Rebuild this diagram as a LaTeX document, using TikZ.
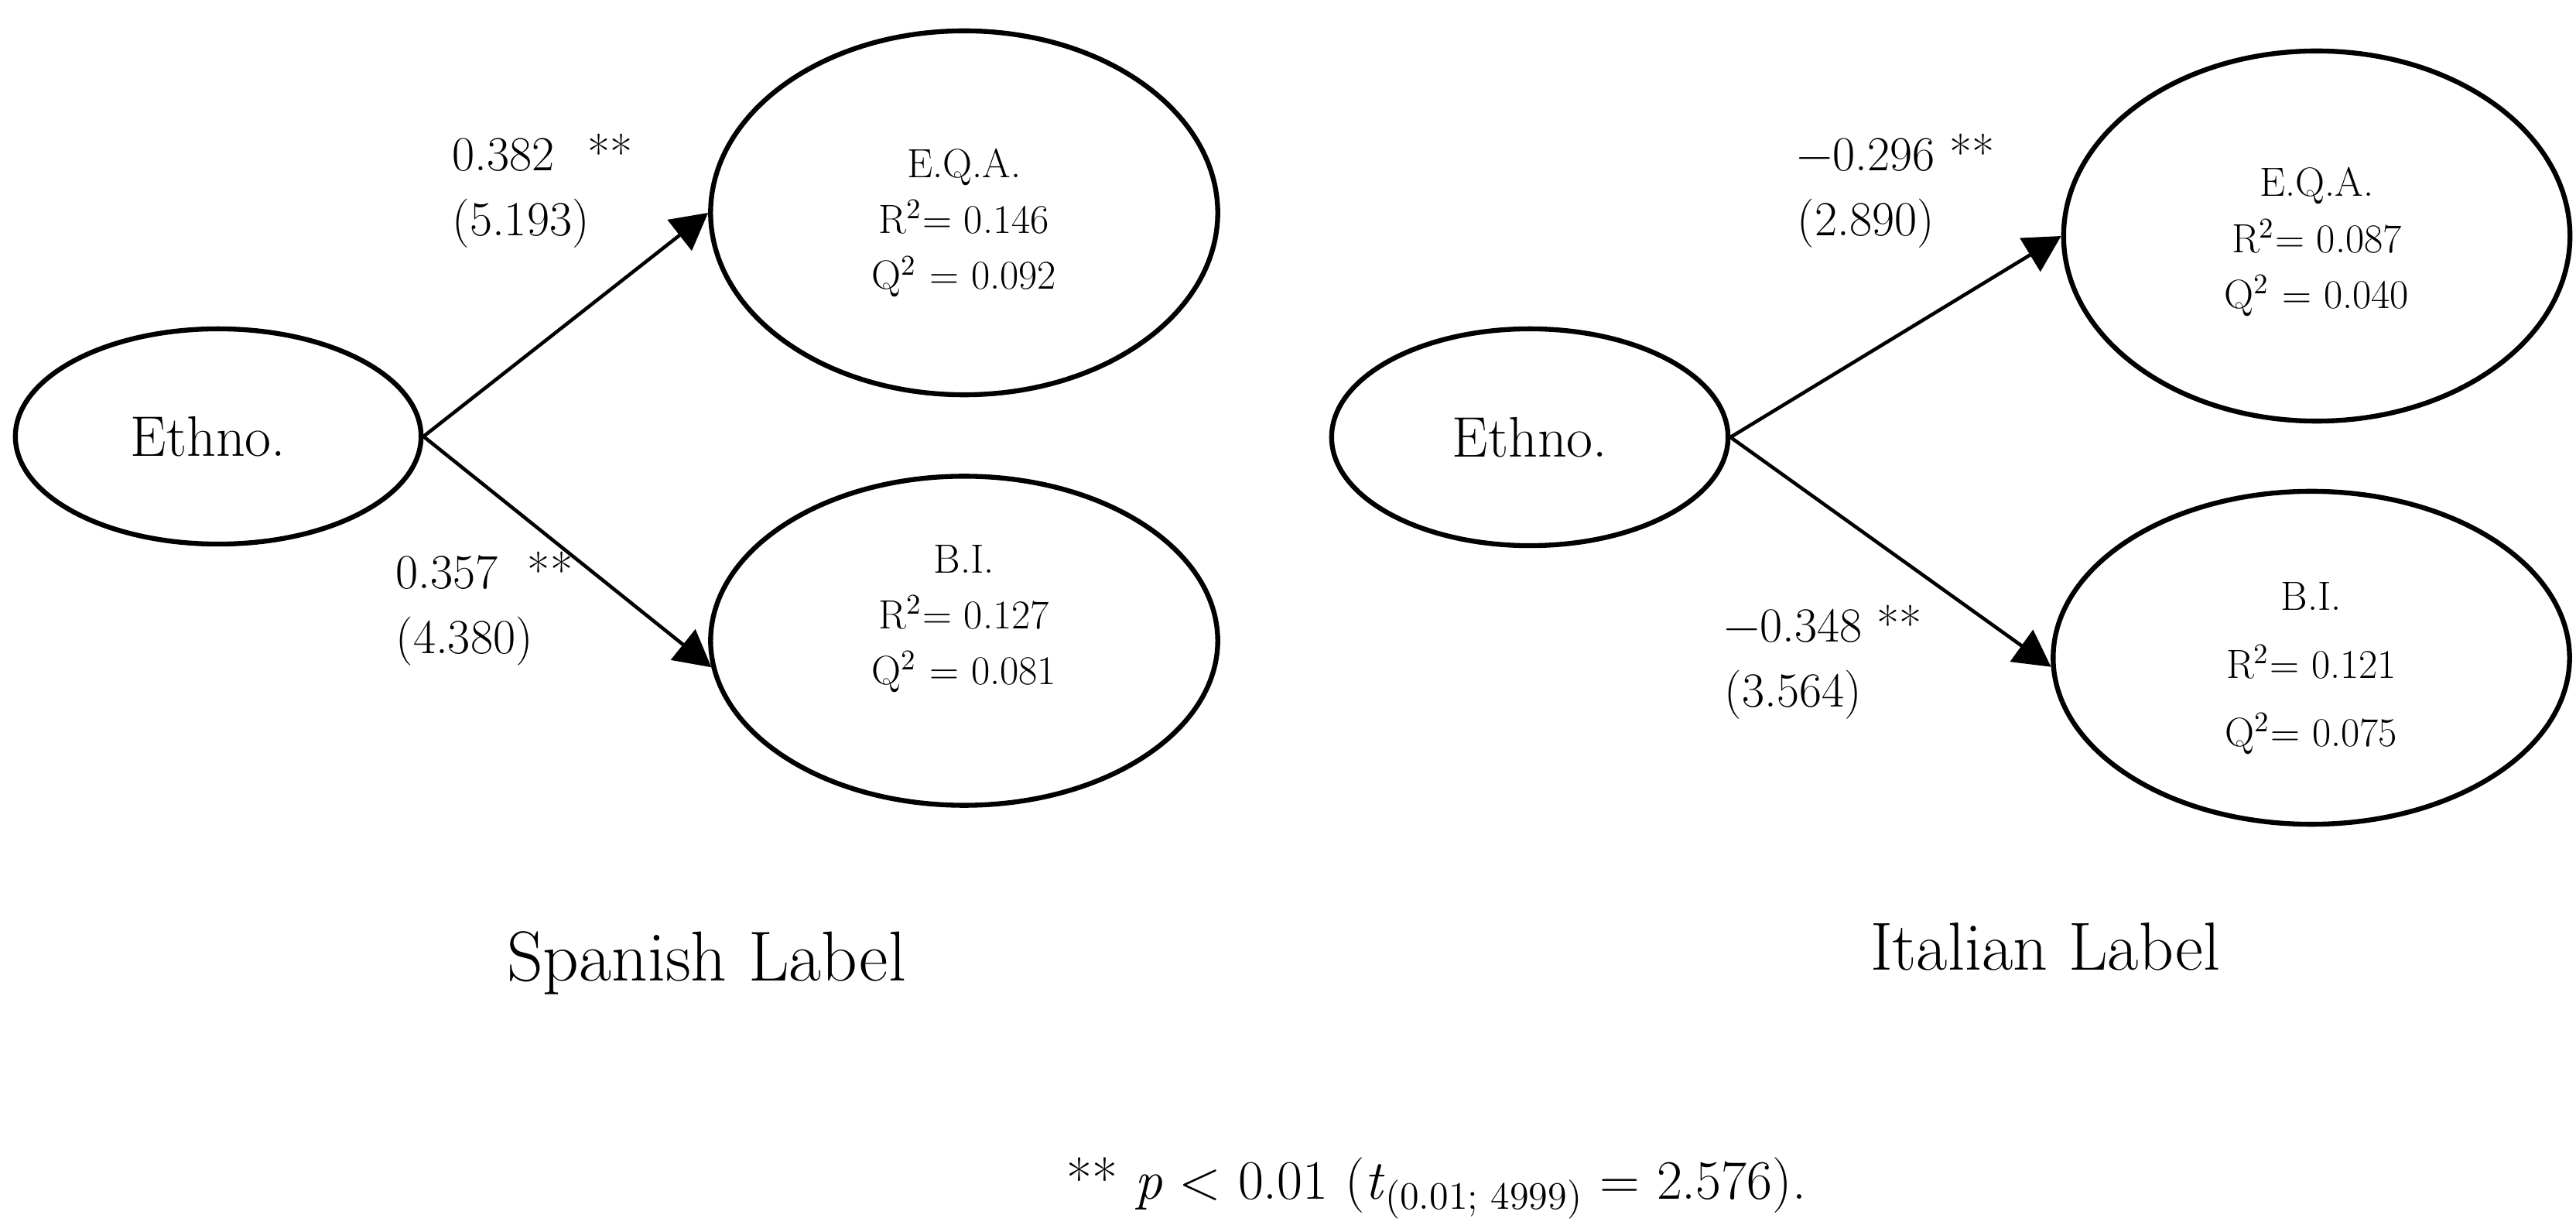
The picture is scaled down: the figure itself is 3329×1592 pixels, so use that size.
\documentclass[tikz,border=0pt]{standalone}
\usepackage{fontspec}
\usetikzlibrary{shapes.geometric, arrows.meta}
\begin{document}
\begin{tikzpicture}[x=0.01cm, y=-0.01cm,
  latent/.style={draw, line width=1.8pt, ellipse, inner sep=0pt, align=center},
  ethnobox/.style={latent, font=\fontsize{21}{24}\selectfont},
  inner/.style={text depth=0pt},
  pathline/.style={line width=1.3pt, -{Triangle[length=0.47cm, width=0.5cm]}},
  coef/.style={anchor=base west, align=left, inner sep=0pt, font=\fontsize{18}{24}\selectfont},
  title/.style={anchor=base, inner sep=0pt}
]
\useasboundingbox (0,0) rectangle (3329,1592);

% Spanish
\node[ethnobox, minimum width=5.24cm, minimum height=2.78cm] (e1) at (282,564) {\hspace*{-0.26cm}Ethno.};
\node[latent, inner, font=\fontsize{15}{20.5}\selectfont, text height=56pt,
  minimum width=6.55cm, minimum height=4.7cm] (q1) at (1246,275)
  {E.Q.A.\\R\textsuperscript{2}= 0.146\\Q\textsuperscript{2} = 0.092};
\node[latent, inner, font=\fontsize{15}{20.5}\selectfont, text height=32pt,
  minimum width=6.55cm, minimum height=4.25cm] (b1) at (1246,828)
  {B.I.\\R\textsuperscript{2}= 0.127\\Q\textsuperscript{2} = 0.081};
\draw[pathline] (e1.east) -- (q1.west);
\draw[pathline] (e1.east) -- (b1.186);
\node[coef] (l1) at (584,305) {0.382\hspace{0.68em}**\\(5.193)};
\node[coef] (l2) at (511,845) {0.357\ \ **\\(4.380)};
\node[title, font=\fontsize{26}{30}\selectfont] (t1) at (913,1268) {Spanish Label};

% Italian
\node[ethnobox, minimum width=5.12cm, minimum height=2.8cm] (e2) at (1977,565) {Ethno.};
\node[latent, inner, font=\fontsize{15}{20.5}\selectfont, text height=53pt,
  minimum width=6.54cm, minimum height=4.78cm] (q2) at (2994,305)
  {E.Q.A.\\R\textsuperscript{2}= 0.087\\Q\textsuperscript{2} = 0.040};
\node[latent, inner, font=\fontsize{15}{25}\selectfont, text height=65pt,
  minimum width=6.67cm, minimum height=4.3cm] (b2) at (2987,850)
  {B.I.\\R\textsuperscript{2}= 0.121\\Q\textsuperscript{2}= 0.075};
\draw[pathline] (e2.east) -- (q2.west);
\draw[pathline] (e2.east) -- (b2.182);
\node[coef] (l3) at (2322,305) {−0.296 **\\(2.890)};
\node[coef] (l4) at (2228,914) {−0.348 **\\(3.564)};
\node[title, font=\fontsize{25}{30}\selectfont] (t2) at (2643,1254) {Italian Label};

% footnote
\node[anchor=base west, inner sep=0pt, font=\fontsize{20.4}{24}\selectfont] (fn) at (1378,1550)
  {** \textit{p} < 0.01 (\textit{t}\textsubscript{(0.01; 4999)} = 2.576).};
\end{tikzpicture}
\end{document}
